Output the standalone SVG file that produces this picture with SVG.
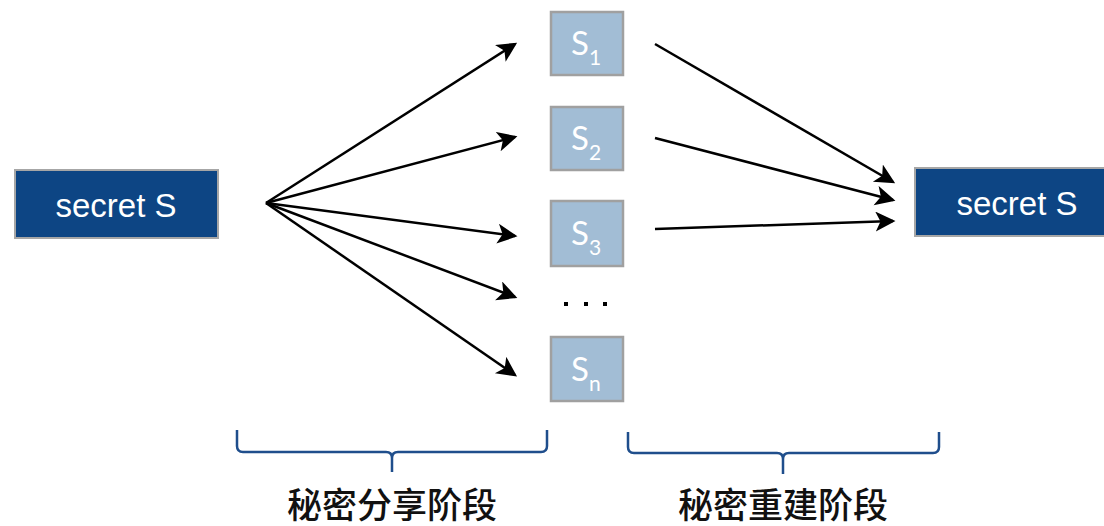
<svg xmlns="http://www.w3.org/2000/svg" width="1104" height="526" viewBox="0 0 1104 526">
<style>
.big{fill:#0D4584;stroke:#A6A6A6;stroke-width:2}
.share{fill:#A2BDD5;stroke:#A0A0A0;stroke-width:2.5}
.bt{font-family:"Liberation Sans",Arial,sans-serif;font-size:33px;fill:#fff;text-anchor:middle}
.st{font-family:"Lato","Open Sans",sans-serif;font-size:33px;fill:#fff}
.sub{font-size:21px}
.conn line{stroke:#000;stroke-width:2.5;marker-end:url(#ah)}
.brace{fill:none;stroke:#1F4E8C;stroke-width:2.5}
.cn{font-family:"Noto Sans CJK SC","Noto Sans",sans-serif;font-size:35px;font-weight:500;fill:#111;text-anchor:middle}
</style>
<defs>
<marker id="ah" markerWidth="10" markerHeight="10" refX="7" refY="4" orient="auto" markerUnits="strokeWidth">
<path d="M0,0 L8,4 L0,8 L2,4 Z" fill="#000"/>
</marker>
</defs>
<rect width="1104" height="526" fill="#fff"/>
<g id="secret-left"><rect class="big" x="15" y="170" width="203" height="68"/><text class="bt" x="116" y="217">secret S</text></g>
<g id="secret-right"><rect class="big" x="915" y="168" width="190" height="68"/><text class="bt" x="1017" y="215">secret S</text></g>
<g id="s1"><rect class="share" x="551" y="12" width="72" height="63"/><text class="st" x="571" y="55">S<tspan class="sub" dy="10">1</tspan></text></g>
<g id="s2"><rect class="share" x="551" y="107" width="72" height="63"/><text class="st" x="571" y="150">S<tspan class="sub" dy="10">2</tspan></text></g>
<g id="s3"><rect class="share" x="551" y="201" width="72" height="65"/><text class="st" x="571" y="245">S<tspan class="sub" dy="10">3</tspan></text></g>
<g id="dots" fill="#000"><rect x="564" y="302" width="4" height="4"/><rect x="584" y="302" width="4" height="4"/><rect x="603" y="302" width="4" height="4"/></g>
<g id="sn"><rect class="share" x="551" y="337" width="72" height="64"/><text class="st" x="571" y="381">S<tspan class="sub" dy="10">n</tspan></text></g>
<g id="connectors" class="conn">
<line x1="266" y1="203" x2="515" y2="44"/>
<line x1="266" y1="203" x2="515" y2="137"/>
<line x1="266" y1="203" x2="515" y2="236"/>
<line x1="266" y1="203" x2="515" y2="297"/>
<line x1="266" y1="203" x2="515" y2="375"/>
<line x1="655" y1="44" x2="893" y2="182"/>
<line x1="655" y1="138" x2="893" y2="200"/>
<line x1="655" y1="229" x2="893" y2="221"/>
</g>
<g id="brace-share"><path class="brace" d="M237,430 V446 Q237,452 243,452 H386 Q392,452 392,458 V472 M392,458 Q392,452 398,452 H541 Q547,452 547,446 V430"/><text class="cn" x="392" y="518">秘密分享阶段</text></g>
<g id="brace-rebuild"><path class="brace" d="M628,432 V447 Q628,453 634,453 H777 Q783,453 783,459 V474 M783,459 Q783,453 789,453 H933 Q939,453 939,447 V432"/><text class="cn" x="783" y="518">秘密重建阶段</text></g>
</svg>
